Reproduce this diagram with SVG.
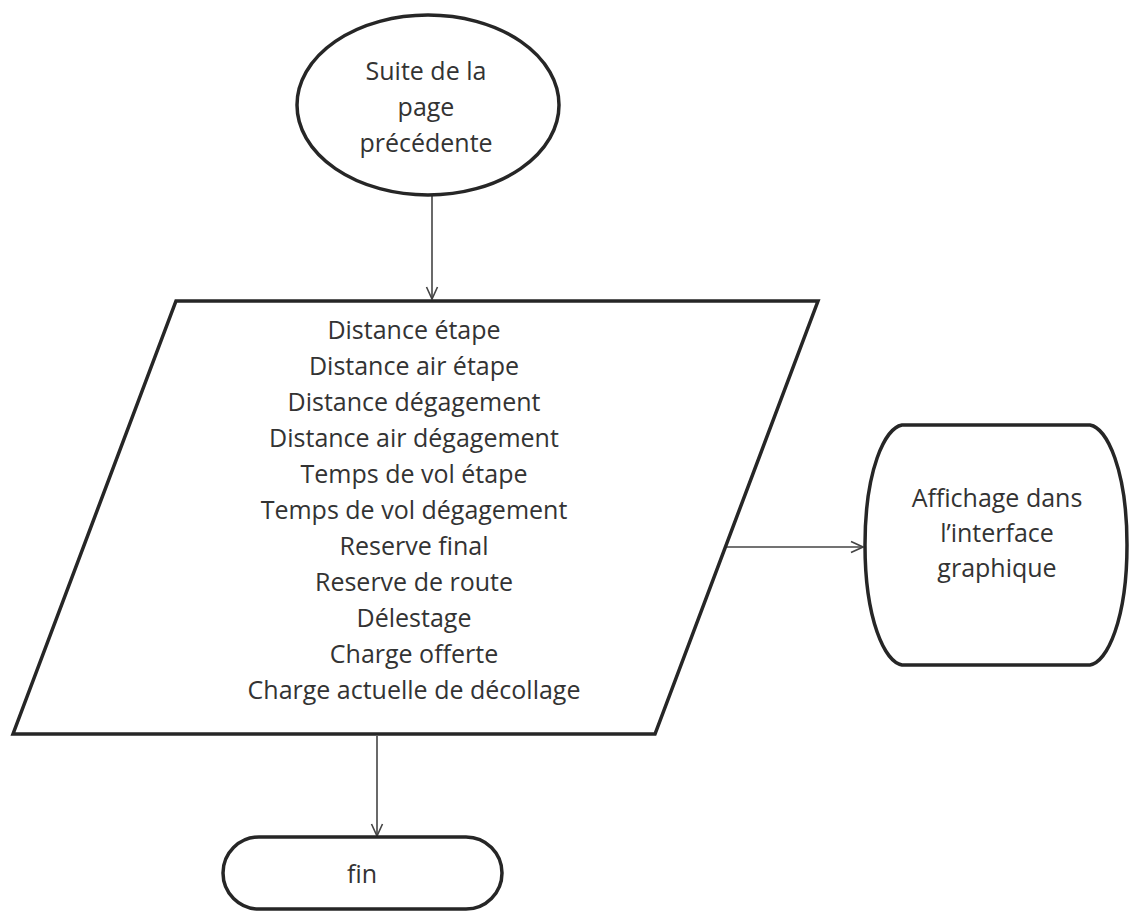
<svg xmlns="http://www.w3.org/2000/svg" width="1132" height="911" viewBox="0 0 1132 911">
<style>
.shape{fill:#fff;stroke:#262626;stroke-width:3.5;stroke-linejoin:miter}
.lbl{font-family:"Open Sans","Liberation Sans",sans-serif;font-size:25px;fill:#333;text-anchor:middle}
.conn{stroke:#444;stroke-width:1.6;fill:none}
</style>
<defs>
<marker id="arr" viewBox="0 0 14 14" refX="13" refY="7" markerWidth="14" markerHeight="14" markerUnits="userSpaceOnUse" orient="auto">
<path d="M1,1.5 L13,7 L1,12.5" fill="none" stroke="#444" stroke-width="1.6"/>
</marker>
</defs>
<rect width="1132" height="911" fill="#fff"/>
<g id="connectors">
<line class="conn" x1="432" y1="196" x2="432" y2="299" marker-end="url(#arr)"/>
<line class="conn" x1="725" y1="547" x2="863" y2="547" marker-end="url(#arr)"/>
<line class="conn" x1="377" y1="736" x2="377" y2="836" marker-end="url(#arr)"/>
</g>
<g id="start">
<ellipse class="shape" cx="428" cy="105" rx="131" ry="90"/>
<text class="lbl" x="426" y="80">Suite de la</text>
<text class="lbl" x="426" y="116">page</text>
<text class="lbl" x="426" y="152">précédente</text>
</g>
<g id="data">
<polygon class="shape" points="176,301 818,301 655,734 13,734"/>
<text class="lbl" x="414" y="339">Distance étape</text>
<text class="lbl" x="414" y="375">Distance air étape</text>
<text class="lbl" x="414" y="411">Distance dégagement</text>
<text class="lbl" x="414" y="447">Distance air dégagement</text>
<text class="lbl" x="414" y="483">Temps de vol étape</text>
<text class="lbl" x="414" y="519">Temps de vol dégagement</text>
<text class="lbl" x="414" y="555">Reserve final</text>
<text class="lbl" x="414" y="591">Reserve de route</text>
<text class="lbl" x="414" y="627">Délestage</text>
<text class="lbl" x="414" y="663">Charge offerte</text>
<text class="lbl" x="414" y="699">Charge actuelle de décollage</text>
</g>
<g id="display">
<path class="shape" d="M902,425 L1090,425 C1107,428 1127,470 1127,545 C1127,620 1107,662 1090,665 L902,665 C885,662 865,620 865,545 C865,470 885,428 902,425 Z"/>
<text class="lbl" x="997" y="507">Affichage dans</text>
<text class="lbl" x="997" y="542">l’interface</text>
<text class="lbl" x="997" y="577">graphique</text>
</g>
<g id="end">
<rect class="shape" x="223" y="837" width="279" height="72" rx="36" ry="36"/>
<text class="lbl" x="362" y="883">fin</text>
</g>
</svg>
